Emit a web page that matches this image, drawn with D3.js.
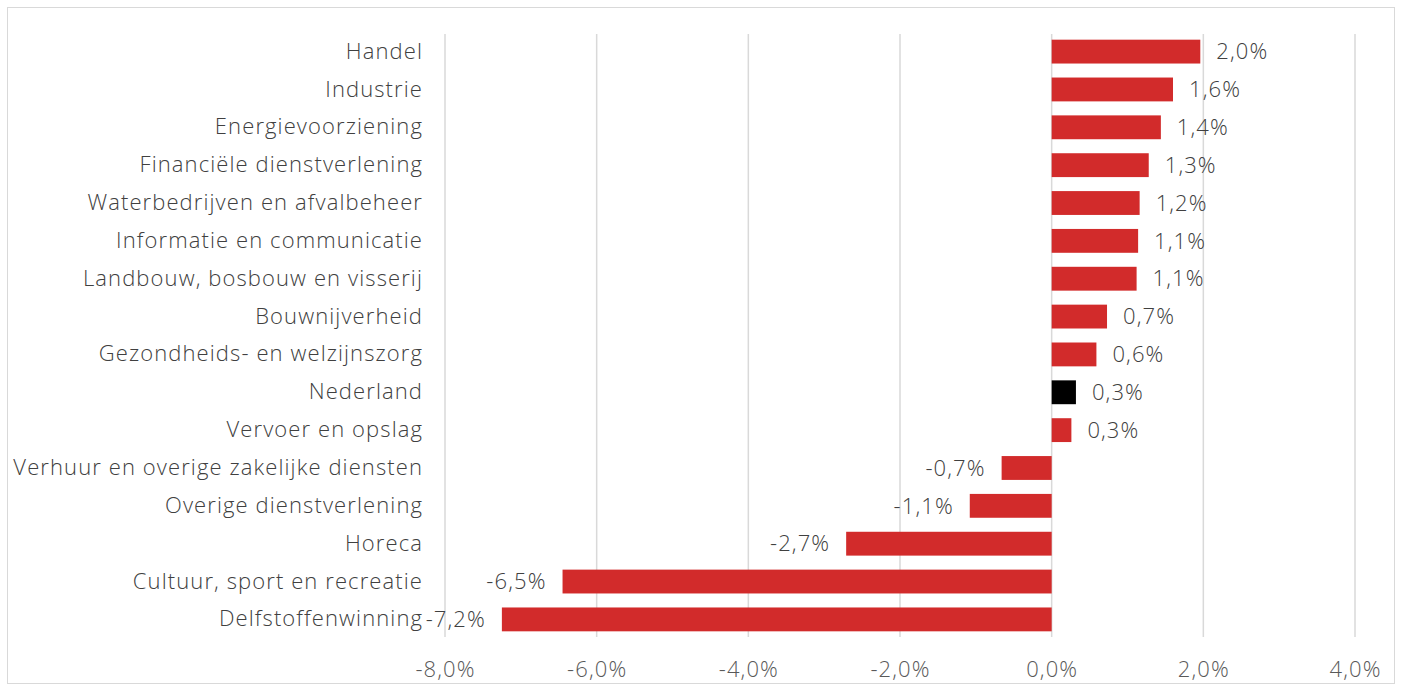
<!DOCTYPE html>
<html>
<head>
<meta charset="utf-8">
<script src="https://cdn.jsdelivr.net/npm/d3@7"></script>
<style>
  body { margin: 0; background: #fff; }
  text { font-family: "Open Sans", sans-serif; font-weight: 300; letter-spacing: 1.1px; }
</style>
</head>
<body>
<div id="chart-area"></div>
<script>
// sectors, top to bottom
var sectors = ["Handel", "Industrie", "Energievoorziening", "Financiële dienstverlening",
  "Waterbedrijven en afvalbeheer", "Informatie en communicatie", "Landbouw, bosbouw en visserij",
  "Bouwnijverheid", "Gezondheids- en welzijnszorg", "Nederland", "Vervoer en opslag",
  "Verhuur en overige zakelijke diensten", "Overige dienstverlening", "Horeca",
  "Cultuur, sport en recreatie", "Delfstoffenwinning"];
var growth = [1.96, 1.60, 1.44, 1.28, 1.16, 1.14, 1.12, 0.73, 0.59, 0.32, 0.26,
  -0.66, -1.08, -2.71, -6.45, -7.25];
var valueLabels = ["2,0%", "1,6%", "1,4%", "1,3%", "1,2%", "1,1%", "1,1%", "0,7%", "0,6%",
  "0,3%", "0,3%", "-0,7%", "-1,1%", "-2,7%", "-6,5%", "-7,2%"];
var xTicks = [-8, -6, -4, -2, 0, 2, 4];

var width = 1402, height = 691;
var margin = {top: 34, right: 47, bottom: 54, left: 445};

var svg = d3.select("#chart-area").append("svg")
  .attr("width", width)
  .attr("height", height);

svg.append("rect")
  .attr("x", 7.5).attr("y", 7.5)
  .attr("width", width - 15).attr("height", height - 15)
  .attr("fill", "none")
  .attr("stroke", "#d9d9d9")
  .attr("stroke-width", 1);

var g = svg.append("g")
  .attr("transform", "translate(" + margin.left + "," + margin.top + ")");

var w = 1355 - margin.left;
var h = height - margin.top - margin.bottom;

var x = d3.scaleLinear().domain([-8, 4]).range([0, w]);
var y = d3.scaleBand().domain(sectors).range([0, h]).paddingInner(0.37).paddingOuter(0.15);

// gridlines
g.selectAll(".grid")
  .data(xTicks)
  .enter().append("line")
  .attr("class", "grid")
  .attr("x1", (d) => x(d)).attr("x2", (d) => x(d))
  .attr("y1", 0).attr("y2", h)
  .attr("stroke", "#d9d9d9")
  .attr("stroke-width", 1.5);

// bars
g.selectAll(".bar")
  .data(growth)
  .enter().append("rect")
  .attr("class", "bar")
  .attr("x", (d) => x(Math.min(0, d)))
  .attr("y", (d, i) => y(sectors[i]))
  .attr("width", (d) => Math.abs(x(d) - x(0)))
  .attr("height", y.bandwidth())
  .attr("fill", (d, i) => sectors[i] === "Nederland" ? "#000000" : "#d22b2b");

// value labels
g.selectAll(".val")
  .data(growth)
  .enter().append("text")
  .attr("class", "val")
  .attr("x", (d) => d >= 0 ? x(d) + 16 : x(d) - 16)
  .attr("y", (d, i) => y(sectors[i]) + y.bandwidth() / 2)
  .attr("dy", "0.35em")
  .attr("text-anchor", (d) => d >= 0 ? "start" : "end")
  .attr("font-size", "22px")
  .attr("fill", "#404040")
  .text((d, i) => valueLabels[i]);

// y axis labels
var yAxis = d3.axisLeft(y).tickSize(0).tickPadding(22);
var yg = g.append("g").attr("transform", "translate(" + x(-8) + ",0)").call(yAxis);
yg.select(".domain").remove();
yg.selectAll("text")
  .attr("font-size", "22px")
  .attr("fill", "#404040")
  .style("font-family", "'Open Sans', sans-serif")
  .style("font-weight", 300);

// x axis
var xAxis = d3.axisBottom(x).tickValues(xTicks).tickSize(0).tickPadding(24)
  .tickFormat((d) => d3.format(".1f")(d).replace(".", ",").replace("−", "-") + "%");
var xg = g.append("g").attr("transform", "translate(0," + h + ")").call(xAxis);
xg.select(".domain").remove();
xg.selectAll("text")
  .attr("font-size", "22px")
  .attr("fill", "#595959")
  .style("font-family", "'Open Sans', sans-serif")
  .style("font-weight", 300);
</script>
</body>
</html>
